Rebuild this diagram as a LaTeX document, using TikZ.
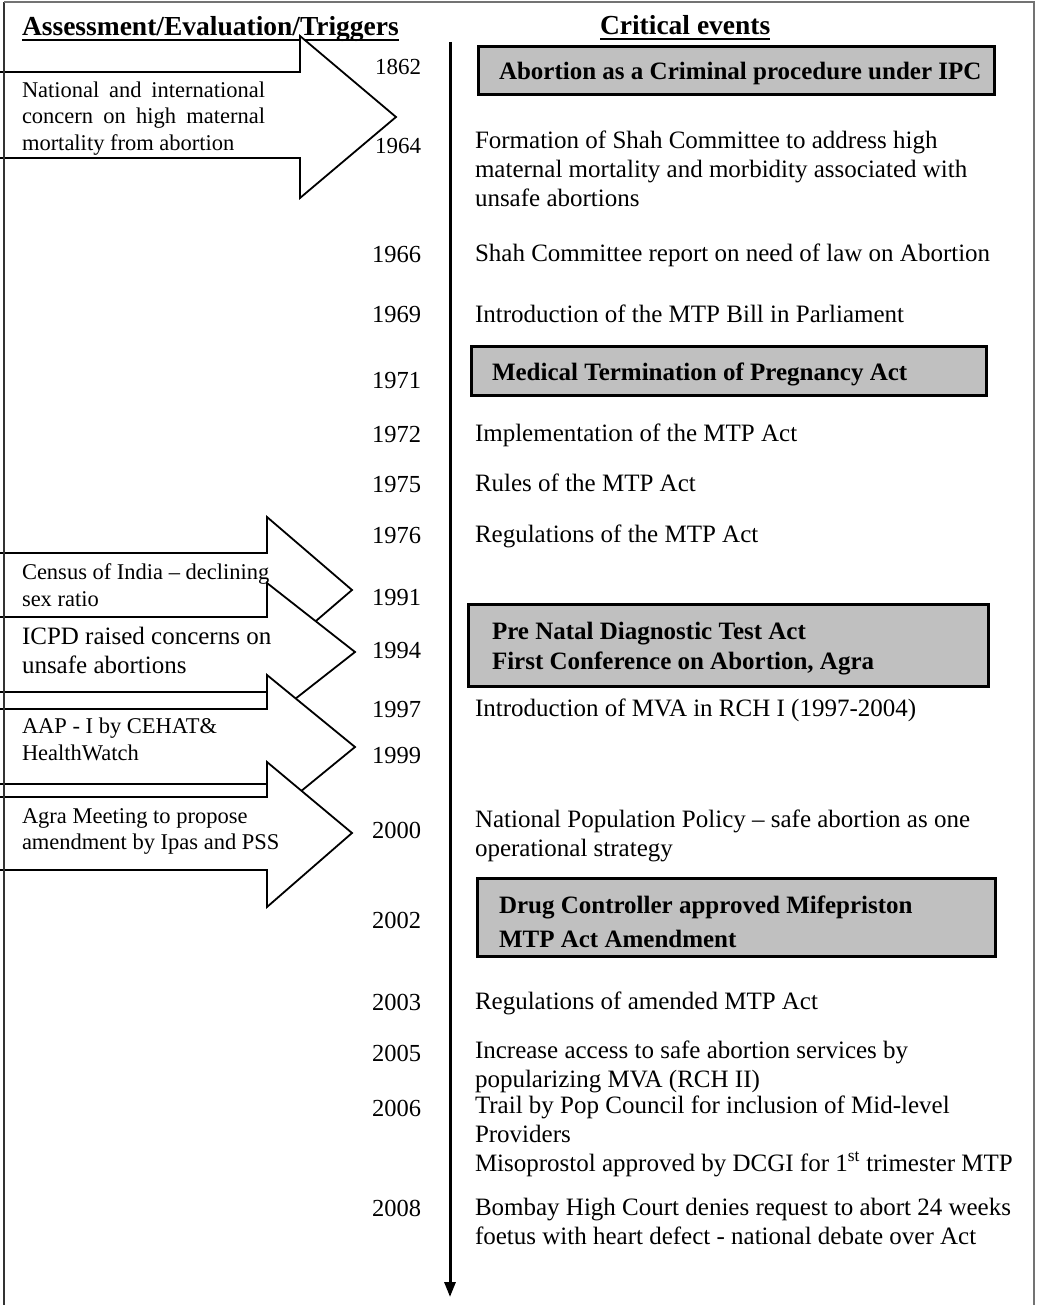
\documentclass[tikz,border=0pt]{standalone}
\usepackage{fontspec}
\setmainfont{Liberation Serif}
\usetikzlibrary{arrows.meta}
\definecolor{boxgray}{HTML}{C0C0C0}

\begin{document}
\begin{tikzpicture}[x=1pt,y=-1pt,
  every node/.style={inner sep=0pt, outer sep=0pt},
  evt/.style={anchor=base west, font=\fontsize{25}{29}\selectfont},
  yr/.style={anchor=base east, font=\fontsize{24.5}{29}\selectfont},
  yrsmall/.style={anchor=base east, font=\fontsize{23}{29}\selectfont},
  trig/.style={anchor=base west, font=\fontsize{22.5}{26}\selectfont},
  trigbig/.style={anchor=base west, font=\fontsize{25}{29}\selectfont},
  keytext/.style={anchor=base west, font=\fontsize{25}{29}\selectfont\bfseries},
  keybox/.style={draw=black, line width=3.5pt, fill=boxgray},
  blockarrow/.style={draw=black, line width=1.8pt, fill=white, line join=miter},
  colhead/.style={anchor=base west, font=\fontsize{27.5}{30}\selectfont\bfseries},
  uline/.style={line width=1.8pt},
]
\useasboundingbox (0,0) rectangle (1037,1305);

% column headings
\node[colhead] (hdrL) at (22,36) {Assessment/Evaluation/Triggers};
\node[colhead] (hdrR) at (600,35) {Critical events};
\draw[uline] ([yshift=-4pt]hdrL.base west) -- ([yshift=-4pt]hdrL.base east);
\draw[uline] ([yshift=-4pt]hdrR.base west) -- ([yshift=-4pt]hdrR.base east);

% triggers: block arrows pointing at the timeline
\draw[blockarrow] (-10,72) -- (300,72) -- (300,36) -- (396,117) -- (300,198) -- (300,158) -- (-10,158) -- cycle;
\draw[blockarrow] (-10,553) -- (267,553) -- (267,517) -- (352,590) -- (267,663) -- (267,617) -- (-10,617) -- cycle;
\draw[blockarrow] (-10,617) -- (267,617) -- (267,583) -- (355,652) -- (267,721) -- (267,692) -- (-10,692) -- cycle;
\draw[blockarrow] (-10,709) -- (267,709) -- (267,675) -- (355,747) -- (267,819) -- (267,784) -- (-10,784) -- cycle;
\draw[blockarrow] (-10,797) -- (267,797) -- (267,762) -- (352,833) -- (267,907) -- (267,870) -- (-10,870) -- cycle;

% page frame
\draw[line width=2.2pt, black!80] (4,1310) -- (4,2);
\draw[line width=1.2pt, black!55] (4,2) -- (1034,2) -- (1034,1310);

% trigger texts
\node[trig] (t1a) at (22,98) {\makebox[243pt][s]{National and international}};
\node[trig] (t1b) at (22,124) {\makebox[243pt][s]{concern on high maternal}};
\node[trig] (t1c) at (22,151) {mortality from abortion};
\node[trig] (t2a) at (22,579) {Census of India – declining};
\node[trig] (t2b) at (22,606) {sex ratio};
\node[trigbig] (t3a) at (22,644) {ICPD raised concerns on};
\node[trigbig] (t3b) at (22,673) {unsafe abortions};
\node[trig] (t4a) at (22,733) {AAP - I by CEHAT\&};
\node[trig] (t4b) at (22,760) {HealthWatch};
\node[trig] (t5a) at (22,823) {Agra Meeting to propose};
\node[trig] (t5b) at (22,849) {amendment by Ipas and PSS};

% timeline
\coordinate (tlTop) at (450,42);
\coordinate (tlEnd) at (450,1297);
\draw[line width=3pt, -{Triangle[width=11pt,length=15pt]}] (tlTop) -- (tlEnd);

% years
\node[yrsmall] (y1862) at (421,75) {1862};
\node[yrsmall] (y1964) at (421,154) {1964};
\node[yr] (y1966) at (421,263) {1966};
\node[yr] (y1969) at (421,323) {1969};
\node[yr] (y1971) at (421,388) {1971};
\node[yr] (y1972) at (421,442) {1972};
\node[yr] (y1975) at (421,492) {1975};
\node[yr] (y1976) at (421,543) {1976};
\node[yr] (y1991) at (421,605) {1991};
\node[yr] (y1994) at (421,658) {1994};
\node[yr] (y1997) at (421,717) {1997};
\node[yr] (y1999) at (421,763) {1999};
\node[yr] (y2000) at (421,838) {2000};
\node[yr] (y2002) at (421,928) {2002};
\node[yr] (y2003) at (421,1010) {2003};
\node[yr] (y2005) at (421,1061) {2005};
\node[yr] (y2006) at (421,1116) {2006};
\node[yr] (y2008) at (421,1216) {2008};

% key events (boxed)
\draw[keybox] (478.5,46.5) rectangle (994.5,94.5);
\node[keytext] (k1) at (499,80) {Abortion as a Criminal procedure under IPC};
\draw[keybox] (471.5,346.5) rectangle (986.5,395.5);
\node[keytext] (k2) at (492,380) {Medical Termination of Pregnancy Act};
\draw[keybox] (468.5,604.5) rectangle (988.5,686.5);
\node[keytext] (k3a) at (492,639) {Pre Natal Diagnostic Test Act};
\node[keytext] (k3b) at (492,669) {First Conference on Abortion, Agra};
\draw[keybox] (477.5,878.5) rectangle (995.5,956.5);
\node[keytext] (k4a) at (499,913) {Drug Controller approved Mifepriston};
\node[keytext] (k4b) at (499,947) {MTP Act Amendment};

% other events
\node[evt] (e1964a) at (475,149) {Formation of Shah Committee to address high};
\node[evt] (e1964b) at (475,178) {maternal mortality and morbidity associated with};
\node[evt] (e1964c) at (475,207) {unsafe abortions};
\node[evt] (e1966) at (475,262) {Shah Committee report on need of law on Abortion};
\node[evt] (e1969) at (475,322) {Introduction of the MTP Bill in Parliament};
\node[evt] (e1972) at (475,441) {Implementation of the MTP Act};
\node[evt] (e1975) at (475,491) {Rules of the MTP Act};
\node[evt] (e1976) at (475,542) {Regulations of the MTP Act};
\node[evt] (e1997) at (475,716) {Introduction of MVA in RCH I (1997-2004)};
\node[evt] (e2000a) at (475,827) {National Population Policy – safe abortion as one};
\node[evt] (e2000b) at (475,856) {operational strategy};
\node[evt] (e2003) at (475,1009) {Regulations of amended MTP Act};
\node[evt] (e2005a) at (475,1058) {Increase access to safe abortion services by};
\node[evt] (e2005b) at (475,1087) {popularizing MVA (RCH II)};
\node[evt] (e2006a) at (475,1113) {Trail by Pop Council for inclusion of Mid-level};
\node[evt] (e2006b) at (475,1142) {Providers};
\node[evt] (e2006c) at (475,1171) {Misoprostol approved by DCGI for 1\textsuperscript{st} trimester MTP};
\node[evt] (e2008a) at (475,1215) {Bombay High Court denies request to abort 24 weeks};
\node[evt] (e2008b) at (475,1244) {foetus with heart defect - national debate over Act};
\end{tikzpicture}
\end{document}
